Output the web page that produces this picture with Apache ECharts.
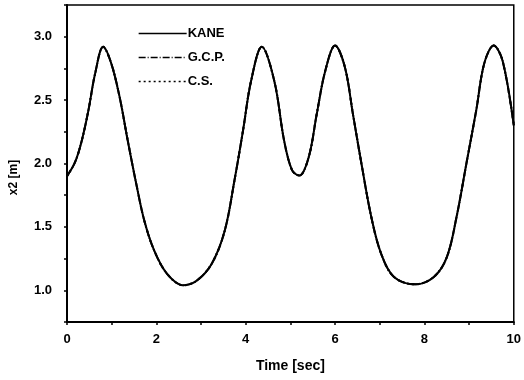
<!DOCTYPE html>
<html>
<head>
<meta charset="utf-8">
<script src="https://cdn.jsdelivr.net/npm/echarts@6/dist/echarts.min.js"></script>
<style>
html, body { margin: 0; padding: 0; background: #fff; }
#chart { width: 524px; height: 380px; }
</style>
</head>
<body>
<div id="chart"></div>
<script>
// time [sec] and x2 [m]
const timeVals = [0, 0.18, 0.33, 0.48, 0.63, 0.81, 0.99, 1.18, 1.36, 1.55, 1.73, 1.95, 2.24, 2.6, 2.9,
  3.24, 3.53, 3.75, 3.94, 4.12, 4.36, 4.64, 4.86, 5.04, 5.2, 5.41, 5.59, 5.78, 6.0, 6.22, 6.4,
  6.59, 6.81, 7.03, 7.32, 7.8, 8.21, 8.5, 8.72, 8.94, 9.16, 9.34, 9.55, 9.75, 10]
const x2Vals = [1.90, 2.01, 2.18, 2.42, 2.71, 2.92, 2.79, 2.52, 2.18, 1.84, 1.55, 1.315, 1.13, 1.04, 1.075,
  1.21, 1.47, 1.87, 2.26, 2.65, 2.92, 2.65, 2.18, 1.945, 1.905, 2.05, 2.39, 2.73, 2.93, 2.76, 2.39,
  2.0, 1.58, 1.29, 1.105, 1.047, 1.105, 1.26, 1.58, 2.0, 2.42, 2.79, 2.93, 2.81, 2.30]
const seriesNames = ['KANE', 'G.C.P.', 'C.S.']
const lineTypes = ['solid', [7, 2, 1, 2], [2, 3]]

const font = 'Liberation Sans, Arial, sans-serif'
const pts = timeVals.map((t, i) => [t, x2Vals[i]])

let chart = echarts.init(document.getElementById('chart'))
chart.setOption({
  animation: false,
  grid: {
    left: 65, right: 6, top: 5, bottom: 58,
    show: true, borderColor: '#000', borderWidth: 1.5
  },
  legend: {
    orient: 'vertical',
    left: 133, top: 22,
    itemWidth: 48, itemHeight: 8, itemGap: 11,
    data: seriesNames,
    itemStyle: { opacity: 0 },
    lineStyle: { width: 1.3 },
    textStyle: { fontFamily: font, fontWeight: 'bold', fontSize: 13, color: '#000', padding: [0, 0, 0, -4] }
  },
  xAxis: {
    type: 'value', min: 0, max: 10, interval: 2,
    name: 'Time [sec]', nameLocation: 'middle', nameGap: 37,
    nameTextStyle: { fontFamily: font, fontWeight: 'bold', fontSize: 14, color: '#000' },
    axisLine: { lineStyle: { color: '#000', width: 2 } },
    axisTick: { length: 3, lineStyle: { color: '#000', width: 1.5 } },
    minorTick: { show: true, splitNumber: 2, length: 3, lineStyle: { color: '#000', width: 1.5 } },
    splitLine: { show: false },
    axisLabel: { fontFamily: font, fontWeight: 'bold', fontSize: 13, color: '#000', margin: 11 }
  },
  yAxis: {
    type: 'value', min: 0.75, max: 3.25, interval: 0.25,
    name: 'x2 [m]', nameLocation: 'middle', nameGap: 47,
    nameTextStyle: { fontFamily: font, fontWeight: 'bold', fontSize: 12, color: '#000', padding: [0, 28, 0, 0] },
    axisLine: { lineStyle: { color: '#000', width: 2 } },
    axisTick: { length: 3, lineStyle: { color: '#000', width: 1.5 } },
    splitLine: { show: false },
    axisLabel: {
      fontFamily: font, fontWeight: 'bold', fontSize: 13, color: '#000', margin: 15,
      formatter: v => (Math.abs(v * 2 - Math.round(v * 2)) < 1e-6 ? v.toFixed(1) : '')
    }
  },
  series: seriesNames.map((name, i) => ({
    name: name,
    type: 'line',
    data: pts,
    smooth: 0.35,
    symbol: 'none',
    z: 3 - i,
    itemStyle: { color: '#000' },
    lineStyle: { color: '#000', width: 2, type: lineTypes[i] }
  }))
})
</script>
</body>
</html>
